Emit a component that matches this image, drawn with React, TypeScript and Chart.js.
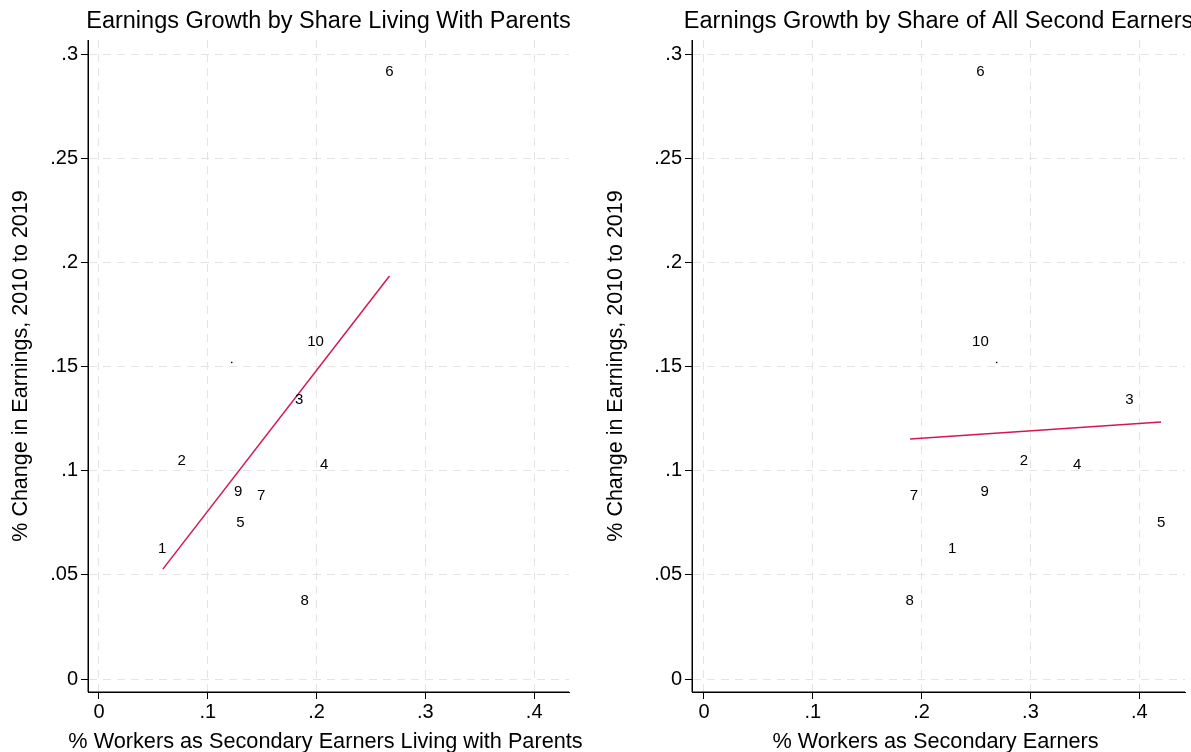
import React, { useEffect, useRef } from "react";
import { Chart, registerables } from "chart.js";
Chart.register(...registerables);

const labels = ["1", "2", "3", "4", "5", "6", "7", "8", "9", "10"];
const leftX = [0.058, 0.076, 0.184, 0.207, 0.130, 0.267, 0.149, 0.189, 0.128, 0.199];
const rightX = [0.228, 0.294, 0.391, 0.343, 0.420, 0.254, 0.193, 0.189, 0.258, 0.254];
const growthY = [0.0624, 0.105, 0.134, 0.1027, 0.0749, 0.2914, 0.0878, 0.0374, 0.0898, 0.1618];
const leftDot = { x: 0.122, y: 0.152 };
const rightDot = { x: 0.269, y: 0.152 };
const leftFit = [{ x: 0.0587, y: 0.0528 }, { x: 0.267, y: 0.1935 }];
const rightFit = [{ x: 0.1894, y: 0.1152 }, { x: 0.420, y: 0.1234 }];
const xTicks = [0, 0.1, 0.2, 0.3, 0.4];
const yTicks = [0, 0.05, 0.1, 0.15, 0.2, 0.25, 0.3];

const fmt = (v: number) => {
  const r = Math.round(v * 100) / 100;
  return r === 0 ? "0" : String(r).replace(/^0/, "");
};
const FONT = "Arial, 'Liberation Sans', sans-serif";

const labelPlugin = {
  id: "ptlabels",
  afterDatasetsDraw(chart: any) {
    const ctx = chart.ctx;
    const meta = chart.getDatasetMeta(0);
    ctx.save();
    ctx.fillStyle = "#000";
    ctx.font = `15px ${FONT}`;
    ctx.textAlign = "center";
    ctx.textBaseline = "middle";
    meta.data.forEach((el: any, i: number) => {
      ctx.fillText(labels[i], el.x, el.y);
    });
    const dm = chart.getDatasetMeta(1);
    dm.data.forEach((el: any) => {
      ctx.fillRect(el.x - 0.7, el.y - 0.7, 1.4, 1.4);
    });
    ctx.restore();
  },
};

function Panel(props: { xs: number[]; dot: any; fit: any[]; title: string; xTitle: string; xmin: number; xmax: number; left: number; yAxisW: number; padR: number }) {
  const ref = useRef<HTMLCanvasElement>(null);
  useEffect(() => {
    const pts = props.xs.map((x, i) => ({ x, y: growthY[i] }));
    const chart = new Chart(ref.current!, {
      type: "scatter",
      data: {
        datasets: [
          { data: pts, pointRadius: 0, showLine: false },
          { data: [props.dot], pointRadius: 0, showLine: false },
          { data: props.fit, showLine: true, borderColor: "#d6174f", borderWidth: 1.5, pointRadius: 0, fill: false },
        ],
      },
      options: {
        animation: false,
        responsive: false,
        layout: { padding: { top: 40, right: props.padR, left: 0, bottom: 0 } },
        plugins: {
          legend: { display: false },
          tooltip: { enabled: false },
          title: { display: false },
        },
        scales: {
          x: {
            type: "linear",
            min: props.xmin,
            max: props.xmax,
            afterBuildTicks: (s: any) => { s.ticks = xTicks.map((v) => ({ value: v })); },
            afterFit: (s: any) => { s.height = 60; },
            ticks: { callback: (v: any) => fmt(Number(v)), color: "#000", font: { family: FONT, size: 20 }, maxRotation: 0, padding: 1 },
            grid: { color: "#e4e4e4", tickColor: "#000", tickLength: 7, drawOnChartArea: true },
            border: { color: "#000", dash: [8, 6], display: true },
            title: { display: false },
          },
          y: {
            type: "linear",
            min: -0.0062,
            max: 0.3068,
            afterBuildTicks: (s: any) => { s.ticks = yTicks.map((v) => ({ value: v })); },
            afterFit: (s: any) => { s.width = props.yAxisW; },
            ticks: { callback: (v: any) => fmt(Number(v)), color: "#000", font: { family: FONT, size: 20 }, padding: 3 },
            grid: { color: "#e4e4e4", tickColor: "#000", tickLength: 7 },
            border: { color: "#000", dash: [8, 6] },
            title: { display: true, text: "% Change in Earnings, 2010 to 2019", color: "#000", font: { family: FONT, size: 21.5 }, padding: { top: 8 } },
          },
        },
      },
      plugins: [labelPlugin,
        {
          id: "axisLines",
          afterDraw(c: any) {
            const ctx = c.ctx, a = c.chartArea;
            ctx.save();
            ctx.strokeStyle = "#000";
            ctx.lineWidth = 1;
            ctx.beginPath();
            ctx.moveTo(a.left, a.top);
            ctx.lineTo(a.left, a.bottom);
            ctx.lineTo(a.right, a.bottom);
            ctx.stroke();
            ctx.fillStyle = "#000";
            ctx.font = `23.5px ${FONT}`;
            ctx.textAlign = "center";
            ctx.textBaseline = "middle";
            ctx.fillText(props.title, (a.left + a.right) / 2, 22);
            ctx.font = `21.7px ${FONT}`;
            ctx.fillText(props.xTitle, (a.left + a.right) / 2 - 3, 742);
            ctx.restore();
          },
        }],
    });
    return () => chart.destroy();
  }, []);
  return <canvas ref={ref} width={596} height={752} style={{ position: "absolute", left: props.left, top: 0 }} />;
}

export default function App() {
  useEffect(() => { document.body.style.margin = "0"; }, []);
  return (
    <div style={{ position: "relative", width: 1191, height: 752, background: "#fff", overflow: "hidden" }}>
      <Panel xs={leftX} dot={leftDot} fit={leftFit} title="Earnings Growth by Share Living With Parents" xTitle="% Workers as Secondary Earners Living with Parents" xmin={-0.0101} xmax={0.432} left={0} yAxisW={88} padR={27} />
      <Panel xs={rightX} dot={rightDot} fit={rightFit} title="Earnings Growth by Share of All Second Earners" xTitle="% Workers as Secondary Earners" xmin={-0.011} xmax={0.442} left={595} yAxisW={97} padR={6} />
    </div>
  );
}
